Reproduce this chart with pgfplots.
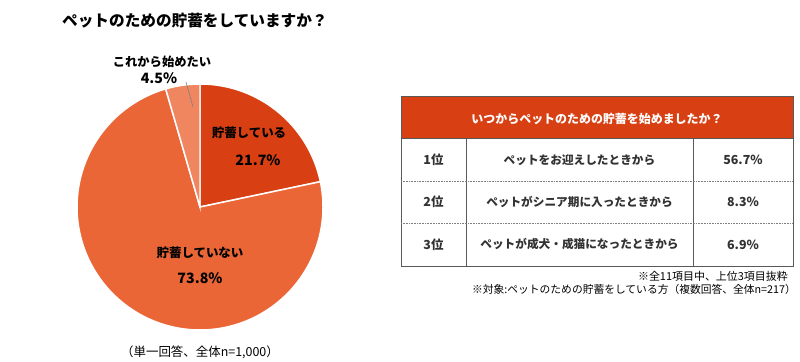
\documentclass[border=0pt]{standalone}
\usepackage{fontspec}
\setmainfont{Noto Sans CJK JP}
\usepackage{pgfplots}
\pgfplotsset{compat=1.18}
\definecolor{cA}{RGB}{216,64,20}
\definecolor{cB}{RGB}{235,102,55}
\definecolor{cC}{RGB}{240,134,96}
\definecolor{bord}{RGB}{89,89,89}
\definecolor{txt}{RGB}{50,50,50}
% data (percent)
\def\vA{21.7}
\def\vB{73.8}
\def\vC{4.5}
\begin{document}
\begin{tikzpicture}
\begin{axis}[
  scale only axis, width=800bp, height=361bp,
  xmin=0, xmax=800, ymin=0, ymax=361,
  hide axis, clip=false,
]
\path (rel axis cs:0,0) rectangle (rel axis cs:1,1);
\pgfmathsetmacro{\aA}{90}
\pgfmathsetmacro{\aB}{90-3.6*\vA}
\pgfmathsetmacro{\aC}{\aB-3.6*\vB}
\pgfmathsetmacro{\aD}{\aC-3.6*\vC}
\addplot[draw=white, line width=1.5pt, fill=cA, domain=\aB:\aA, samples=80, variable=\t]
  ({200+123*cos(\t)},{154+123*sin(\t)}) -- (axis cs:200,154) -- cycle;
\addplot[draw=white, line width=1.5pt, fill=cB, domain=\aC:\aB, samples=200, variable=\t]
  ({200+123*cos(\t)},{154+123*sin(\t)}) -- (axis cs:200,154) -- cycle;
\addplot[draw=white, line width=1.5pt, fill=cC, domain=\aD:\aC, samples=30, variable=\t]
  ({200+123*cos(\t)},{154+123*sin(\t)}) -- (axis cs:200,154) -- cycle;
% leader line
\addplot[draw=gray, line width=0.6pt] coordinates {(186,279) (193,254)};
% pie labels
\node[anchor=west, inner sep=0, font=\bfseries\fontsize{15.7}{18}\selectfont] at (axis cs:62,340) {ペットのための貯蓄をしていますか？};
\node[font=\bfseries\fontsize{12.3}{14}\selectfont] at (axis cs:162,299) {これから始めたい};
\node[font=\bfseries\fontsize{14.3}{16}\selectfont] at (axis cs:159,283) {4.5\%};
\node[font=\bfseries\fontsize{12.5}{14}\selectfont] at (axis cs:249,228) {貯蓄している};
\node[font=\bfseries\fontsize{14.3}{16}\selectfont] at (axis cs:258,201) {21.7\%};
\node[font=\bfseries\fontsize{12.5}{14}\selectfont] at (axis cs:200,108) {貯蓄していない};
\node[font=\bfseries\fontsize{14.3}{16}\selectfont] at (axis cs:200,83) {73.8\%};
\node[font=\fontsize{12.5}{14}\selectfont] at (axis cs:200,9) {（単一回答、全体n=1,000）};
% table
\addplot[draw=bord, line width=1pt, fill=cA] coordinates {(401,264) (793,264) (793,222) (401,222)} -- cycle;
\addplot[draw=bord, line width=0.8pt] coordinates {(401,222) (401,95) (793,95) (793,222)};
\addplot[draw=bord, line width=0.8pt] coordinates {(466,222) (466,95)};
\addplot[draw=bord, line width=0.8pt] coordinates {(693,222) (693,95)};
\addplot[draw=gray, line width=0.6pt, densely dotted] coordinates {(401,180) (793,180)};
\addplot[draw=gray, line width=0.6pt, densely dotted] coordinates {(401,138) (793,138)};
\node[text=white, font=\bfseries\fontsize{12}{14}\selectfont] at (axis cs:597,242) {いつからペットのための貯蓄を始めましたか？};
\node[text=txt, font=\bfseries\fontsize{12.5}{14}\selectfont] at (axis cs:433.5,201) {1位};
\node[text=txt, font=\bfseries\fontsize{12.5}{14}\selectfont] at (axis cs:433.5,159) {2位};
\node[text=txt, font=\bfseries\fontsize{12.5}{14}\selectfont] at (axis cs:433.5,116.5) {3位};
\node[text=txt, font=\bfseries\fontsize{11.7}{14}\selectfont] at (axis cs:579.5,201) {ペットをお迎えしたときから};
\node[text=txt, font=\bfseries\fontsize{11.7}{14}\selectfont] at (axis cs:579.5,159) {ペットがシニア期に入ったときから};
\node[text=txt, font=\bfseries\fontsize{11.7}{14}\selectfont] at (axis cs:579.5,116.5) {ペットが成犬・成猫になったときから};
\node[text=txt, font=\bfseries\fontsize{12.5}{14}\selectfont] at (axis cs:743,201) {56.7\%};
\node[text=txt, font=\bfseries\fontsize{12.5}{14}\selectfont] at (axis cs:743,159) {8.3\%};
\node[text=txt, font=\bfseries\fontsize{12.5}{14}\selectfont] at (axis cs:743,116.5) {6.9\%};
\node[anchor=east, inner sep=0, font=\fontsize{11}{12}\selectfont] at (axis cs:788,85) {※全11項目中、上位3項目抜粋};
\node[anchor=east, inner sep=0, font=\fontsize{10.8}{12}\selectfont] at (axis cs:796,72) {※対象:ペットのための貯蓄をしている方（複数回答、全体n=217）};
\end{axis}
\end{tikzpicture}
\end{document}
